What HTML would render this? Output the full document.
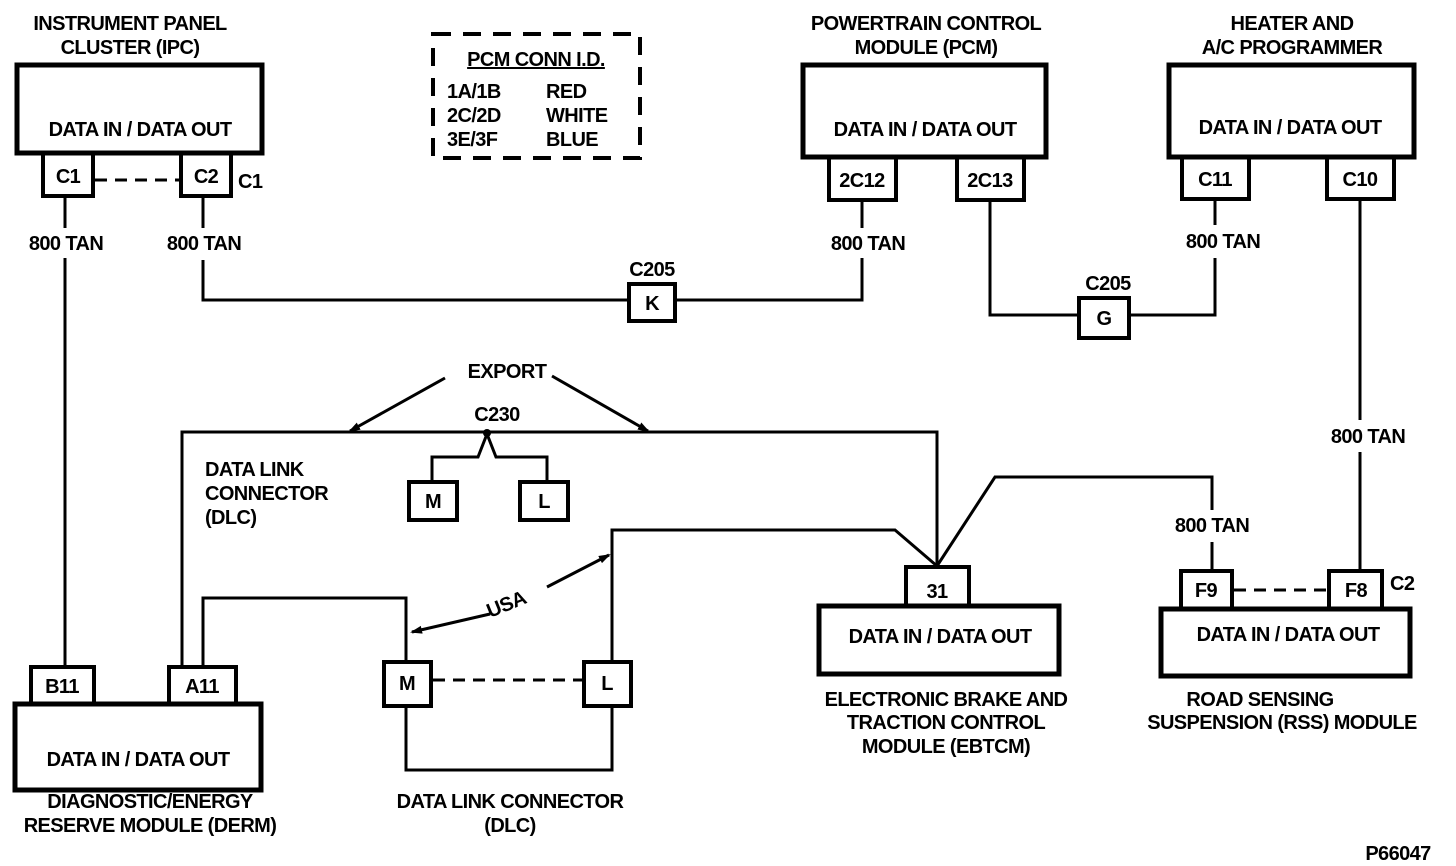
<!DOCTYPE html>
<html><head><meta charset="utf-8"><style>
html,body{margin:0;padding:0;background:#fff}
svg{display:block}
text{font-family:"Liberation Sans",Arial,sans-serif;font-size:20px;font-weight:bold;fill:#000;letter-spacing:-0.6px}
</style></head><body>
<svg width="1456" height="866" viewBox="0 0 1456 866" xmlns="http://www.w3.org/2000/svg">
<defs><marker id="a" markerWidth="12" markerHeight="10" refX="10" refY="5" orient="auto" markerUnits="userSpaceOnUse"><path d="M0,1 L12,5 L0,9 Z" fill="#000"/></marker></defs>
<g fill="none" stroke="#000" stroke-width="3">
<rect x="17" y="65" width="245" height="88" stroke-width="5"/>
<rect x="43" y="153" width="50" height="43" stroke-width="4"/>
<rect x="181" y="153" width="50" height="43" stroke-width="4"/>
<line x1="95" y1="180" x2="179" y2="180" stroke-dasharray="12,8"/>
<polyline points="65,196 65,228"/><polyline points="65,258 65,667"/>
<polyline points="203,196 203,228"/><polyline points="203,260 203,300 629,300"/>
<rect x="629" y="284" width="46" height="37" stroke-width="4"/>
<polyline points="675,300 862,300 862,258"/><polyline points="862,228 862,200"/>
<rect x="803" y="65" width="243" height="92" stroke-width="5"/>
<rect x="829" y="157" width="67" height="43" stroke-width="4"/>
<rect x="957" y="157" width="67" height="43" stroke-width="4"/>
<polyline points="990,200 990,315 1079,315"/>
<rect x="1079" y="298" width="50" height="40" stroke-width="4"/>
<polyline points="1129,315 1215,315 1215,258"/><polyline points="1215,225 1215,198"/>
<rect x="1169" y="65" width="245" height="92" stroke-width="5"/>
<rect x="1182" y="157" width="67" height="42" stroke-width="4"/>
<rect x="1327" y="157" width="67" height="42" stroke-width="4"/>
<polyline points="1360,199 1360,420"/><polyline points="1360,452 1360,571"/>
<rect x="433" y="34" width="207" height="124" stroke-width="4" stroke-dasharray="18,12"/>
<rect x="1161" y="609" width="249" height="67" stroke-width="5"/>
<rect x="1181" y="571" width="51" height="38" stroke-width="4"/>
<rect x="1329" y="571" width="53" height="38" stroke-width="4"/>
<line x1="1234" y1="590" x2="1327" y2="590" stroke-dasharray="12,8"/>
<polyline points="1212,571 1212,542"/><polyline points="1212,510 1212,477 995,477 937,566"/>
<rect x="819" y="606" width="240" height="68" stroke-width="5"/>
<rect x="906" y="567" width="63" height="39" stroke-width="4"/>
<polyline points="182,667 182,432 937,432 937,566"/>
<polyline points="612,662 612,530 895,530 937,566"/>
<polyline points="432,482 432,457 478,457 487,434 496,457 547,457 547,482"/>
<rect x="409" y="482" width="48" height="38" stroke-width="4"/>
<rect x="520" y="482" width="48" height="38" stroke-width="4"/>
<rect x="15" y="704" width="246" height="86" stroke-width="5"/>
<rect x="31" y="667" width="63" height="37" stroke-width="4"/>
<rect x="169" y="667" width="67" height="37" stroke-width="4"/>
<polyline points="203,667 203,598 406,598 406,662"/>
<rect x="384" y="662" width="47" height="44" stroke-width="4"/>
<rect x="584" y="662" width="47" height="44" stroke-width="4"/>
<line x1="433" y1="680" x2="582" y2="680" stroke-dasharray="12,8"/>
<polyline points="406,706 406,770 612,770 612,706"/>
<line x1="445" y1="378" x2="350" y2="431" marker-end="url(#a)"/>
<line x1="552" y1="376" x2="648" y2="431" marker-end="url(#a)"/>
<line x1="490" y1="614" x2="412" y2="632" marker-end="url(#a)"/>
<line x1="547" y1="587" x2="609" y2="555" marker-end="url(#a)"/>
</g>
<circle cx="487" cy="433" r="4" fill="#000"/>
<g text-anchor="middle">
<text x="130" y="30">INSTRUMENT PANEL</text><text x="130" y="54">CLUSTER (IPC)</text>
<text x="140" y="136">DATA IN / DATA OUT</text>
<text x="68" y="183">C1</text><text x="206" y="183">C2</text>
<text x="66" y="250">800 TAN</text><text x="204" y="250">800 TAN</text>
<text x="652" y="276" font-size="18">C205</text><text x="652" y="310">K</text>
<text x="926" y="30">POWERTRAIN CONTROL</text><text x="926" y="54">MODULE (PCM)</text>
<text x="925" y="136">DATA IN / DATA OUT</text>
<text x="862" y="187">2C12</text><text x="990" y="187">2C13</text>
<text x="868" y="250">800 TAN</text>
<text x="1108" y="290" font-size="18">C205</text><text x="1104" y="325">G</text>
<text x="1292" y="30">HEATER AND</text><text x="1292" y="54">A/C PROGRAMMER</text>
<text x="1290" y="134">DATA IN / DATA OUT</text>
<text x="1215" y="186">C11</text><text x="1360" y="186">C10</text>
<text x="1223" y="248">800 TAN</text><text x="1368" y="443">800 TAN</text>
<text x="1212" y="532">800 TAN</text>
<text x="1206" y="597">F9</text><text x="1356" y="597">F8</text>
<text x="1288" y="641">DATA IN / DATA OUT</text>
<text x="1260" y="706">ROAD SENSING</text><text x="1282" y="729">SUSPENSION (RSS) MODULE</text>
<text x="937" y="598">31</text>
<text x="940" y="643">DATA IN / DATA OUT</text>
<text x="946" y="706">ELECTRONIC BRAKE AND</text><text x="946" y="729">TRACTION CONTROL</text><text x="946" y="753">MODULE (EBTCM)</text>
<text x="507" y="378">EXPORT</text><text x="497" y="421" font-size="18">C230</text>
<text x="433" y="508">M</text><text x="544" y="508">L</text>
<text x="407" y="690">M</text><text x="607" y="690">L</text>
<text x="62" y="693">B11</text><text x="202" y="693">A11</text>
<text x="138" y="766">DATA IN / DATA OUT</text>
<text x="150" y="808">DIAGNOSTIC/ENERGY</text><text x="150" y="832">RESERVE MODULE (DERM)</text>
<text x="510" y="808">DATA LINK CONNECTOR</text><text x="510" y="832">(DLC)</text>
<text x="1398" y="860" font-size="18">P66047</text>
<text x="536" y="66" text-decoration="underline">PCM CONN I.D.</text>
</g>
<text x="238" y="188">C1</text><text x="1390" y="590">C2</text>
<text x="205" y="476">DATA LINK</text><text x="205" y="500">CONNECTOR</text><text x="205" y="524">(DLC)</text>
<text x="447" y="98">1A/1B</text><text x="447" y="122">2C/2D</text><text x="447" y="146">3E/3F</text>
<text x="546" y="98">RED</text><text x="546" y="122">WHITE</text><text x="546" y="146">BLUE</text>
<text x="0" y="0" transform="translate(490,618) rotate(-22)">USA</text>
</svg>
</body></html>
